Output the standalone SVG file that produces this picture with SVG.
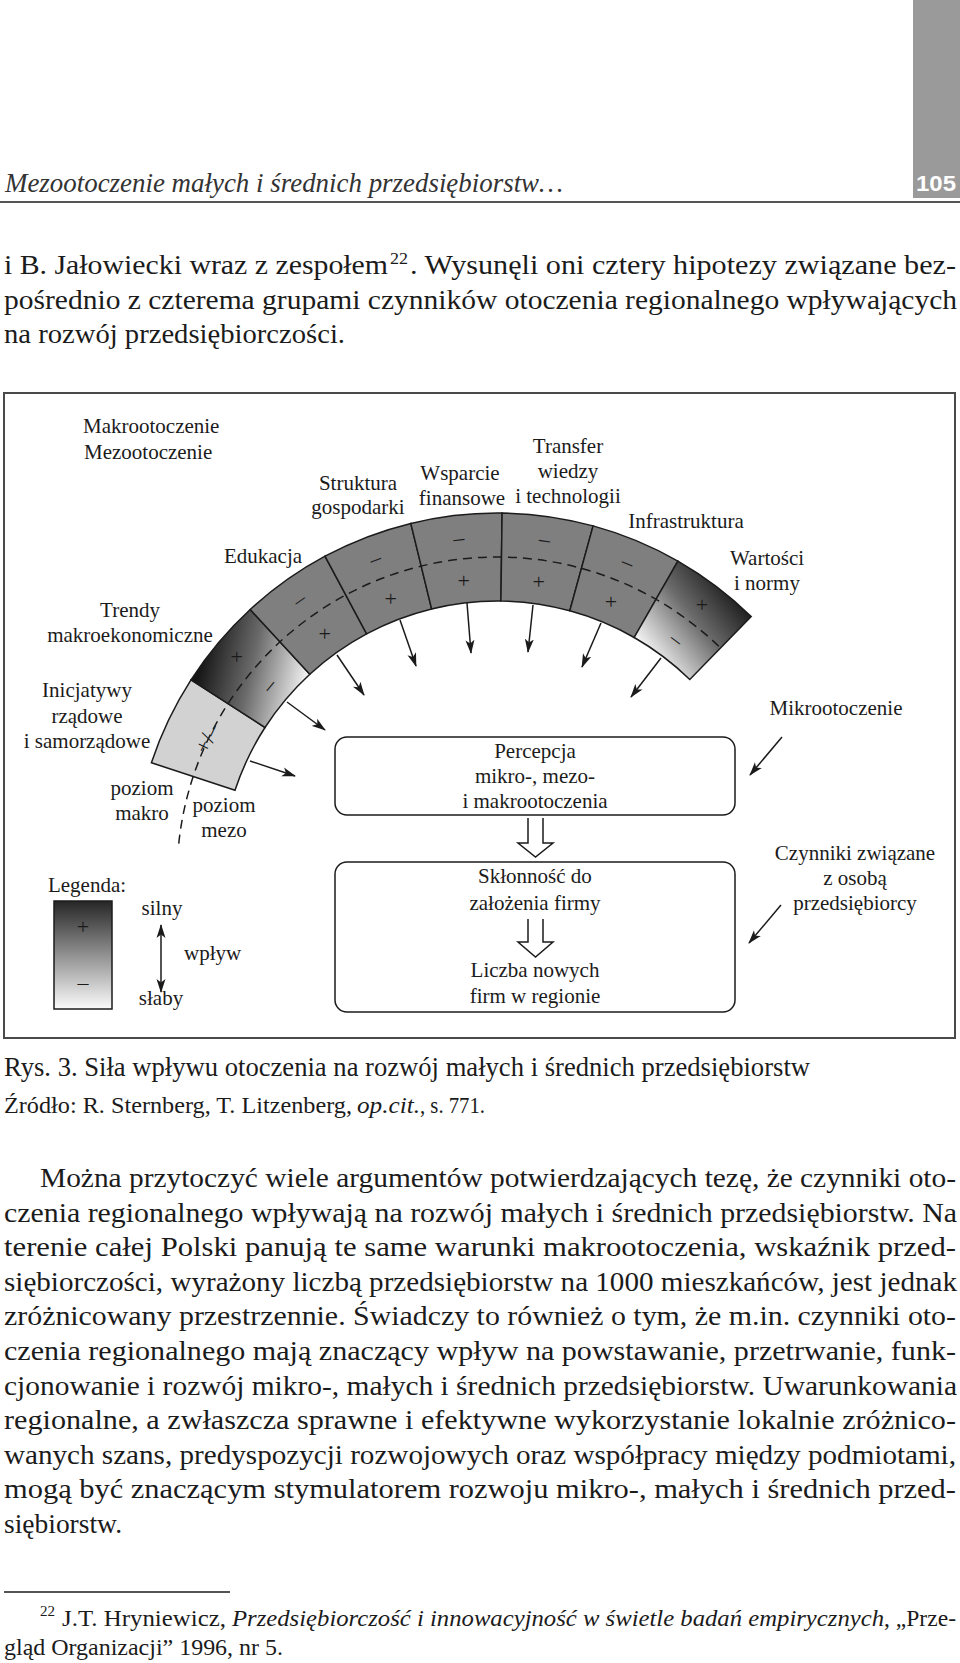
<svg xmlns="http://www.w3.org/2000/svg" width="960" height="1663" viewBox="0 0 960 1663">
<defs>
<style>
.pg{font-family:"Liberation Serif","Times New Roman",serif;fill:#1b1b1b}
.b27{font-size:27.5px}
.it{font-style:italic}
.dl{font-family:"Liberation Serif","Times New Roman",serif;font-size:21px;fill:#1b1b1b;text-anchor:middle}
.seg{stroke:#1b1b1b;stroke-width:1.5}
.sg{font-family:"Liberation Serif","Times New Roman",serif;font-size:22px;fill:#1b1b1b;text-anchor:middle}
.ar{stroke:#1b1b1b;stroke-width:1.5;fill:none;marker-end:url(#ah)}
.box{fill:none;stroke:#1b1b1b;stroke-width:1.5}
.hol{fill:none;stroke:#1b1b1b;stroke-width:1.5;stroke-linejoin:miter}
</style>
<marker id="ah" viewBox="0 0 14 10" refX="13" refY="5" markerWidth="14" markerHeight="10" markerUnits="userSpaceOnUse" orient="auto-start-reverse"><path d="M0,0.5 L14,5 L0,9.5 L3.5,5 Z" fill="#1b1b1b"/></marker>
<linearGradient id="gTr" gradientUnits="userSpaceOnUse" x1="200" y1="665" x2="310" y2="690"><stop offset="0" stop-color="#161616"/><stop offset="0.45" stop-color="#6a6a6a"/><stop offset="1" stop-color="#ffffff"/></linearGradient>
<linearGradient id="gWa" gradientUnits="userSpaceOnUse" x1="730" y1="580" x2="640" y2="650"><stop offset="0" stop-color="#161616"/><stop offset="0.45" stop-color="#6a6a6a"/><stop offset="1" stop-color="#ffffff"/></linearGradient>
<linearGradient id="gLeg" x1="0" y1="0" x2="0" y2="1"><stop offset="0" stop-color="#262626"/><stop offset="1" stop-color="#fbfbfb"/></linearGradient>
</defs>
<rect width="960" height="1663" fill="#ffffff"/>

<g id="page-header">
<rect x="913" y="0" width="47" height="198" fill="#9a9a9a"/>
<text x="936" y="191" font-family="Liberation Sans, Arial, sans-serif" font-weight="bold" font-size="22" fill="#ffffff" text-anchor="middle" textLength="40" lengthAdjust="spacingAndGlyphs">105</text>
<text class="pg it" x="5" y="192" font-size="26.5" style="fill:#333" textLength="558" lengthAdjust="spacingAndGlyphs">Mezootoczenie małych i średnich przedsiębiorstw…</text>
<line x1="0" y1="202" x2="960" y2="202" stroke="#555" stroke-width="2"/>
</g>

<g id="body-top" class="pg b27">
<text x="4" y="274" textLength="384" lengthAdjust="spacingAndGlyphs">i B. Jałowiecki wraz z zespołem</text>
<text x="390" y="264" font-size="16" textLength="18" lengthAdjust="spacingAndGlyphs">22</text>
<text x="410" y="274" textLength="546" lengthAdjust="spacingAndGlyphs">. Wysunęli oni cztery hipotezy związane bez-</text>
<text x="4" y="309" textLength="953" lengthAdjust="spacingAndGlyphs">pośrednio z czterema grupami czynników otoczenia regionalnego wpływających</text>
<text x="4" y="343" textLength="341" lengthAdjust="spacingAndGlyphs">na rozwój przedsiębiorczości.</text>
</g>

<g id="figure-frame">
<rect x="4" y="393" width="951" height="645" fill="none" stroke="#4a4a4a" stroke-width="2"/>
</g>

<g id="labels-top" class="dl">
<text x="83" y="433" style="text-anchor:start">Makrootoczenie</text>
<text x="84" y="459" style="text-anchor:start">Mezootoczenie</text>
</g>

<g id="seg-inicjatywy">
<path class="seg" fill="#d2d2d2" d="M151.4,762.7 A364,364 0 0 1 191.0,679.8 L265.0,727.5 A276,276 0 0 0 235.0,790.3 Z"/>
<text class="sg" transform="translate(208.3,739.0) rotate(-64.45)" x="0" y="6" font-size="21">+/–</text>
<text class="dl" x="87" y="697">Inicjatywy</text>
<text class="dl" x="87" y="723">rządowe</text>
<text class="dl" x="87" y="748">i samorządowe</text>
</g>

<g id="seg-trendy">
<path class="seg" fill="url(#gTr)" d="M191.0,679.8 A364,364 0 0 1 250.2,609.5 L309.8,674.2 A276,276 0 0 0 265.0,727.5 Z"/>
<text class="sg" x="236.7" y="664.2">+</text>
<text class="sg" transform="translate(269.6,685.9) rotate(-49.95)" x="0" y="6">–</text>
<text class="dl" x="130" y="617">Trendy</text>
<text class="dl" x="130" y="642">makroekonomiczne</text>
</g>

<g id="seg-edukacja">
<path class="seg" fill="#7f7f7f" d="M250.2,609.5 A364,364 0 0 1 325.0,556.2 L366.6,633.8 A276,276 0 0 0 309.8,674.2 Z"/>
<text class="sg" transform="translate(299.7,600.1) rotate(-35.45)" x="0" y="6">–</text>
<text class="sg" x="324.7" y="641.1">+</text>
<text class="dl" x="263" y="563">Edukacja</text>
</g>

<g id="seg-struktura">
<path class="seg" fill="#7f7f7f" d="M325.0,556.2 A364,364 0 0 1 410.8,523.4 L431.6,608.9 A276,276 0 0 0 366.6,633.8 Z"/>
<text class="sg" transform="translate(375.4,559.5) rotate(-20.95)" x="0" y="6">–</text>
<text class="sg" x="390.8" y="605.6">+</text>
<text class="dl" x="358" y="490">Struktura</text>
<text class="dl" x="358" y="514">gospodarki</text>
</g>

<g id="seg-wsparcie">
<path class="seg" fill="#7f7f7f" d="M410.8,523.4 A364,364 0 0 1 502.1,513.0 L500.9,601.0 A276,276 0 0 0 431.6,608.9 Z"/>
<text class="sg" transform="translate(458.8,539.1) rotate(-6.45)" x="0" y="6">–</text>
<text class="sg" x="463.6" y="587.9">+</text>
<text class="dl" x="460" y="480">Wsparcie</text>
<text class="dl" x="462" y="505">finansowe</text>
</g>

<g id="seg-transfer">
<path class="seg" fill="#7f7f7f" d="M502.1,513.0 A364,364 0 0 1 593.1,525.9 L569.8,610.8 A276,276 0 0 0 500.9,601.0 Z"/>
<text class="sg" transform="translate(544.6,540.4) rotate(8.05)" x="0" y="6">–</text>
<text class="sg" x="538.6" y="588.9">+</text>
<text class="dl" x="568" y="453">Transfer</text>
<text class="dl" x="568" y="478">wiedzy</text>
<text class="dl" x="568" y="503">i technologii</text>
</g>

<g id="seg-infrastruktura">
<path class="seg" fill="#7f7f7f" d="M593.1,525.9 A364,364 0 0 1 677.9,561.1 L634.2,637.5 A276,276 0 0 0 569.8,610.8 Z"/>
<text class="sg" transform="translate(627.4,563.0) rotate(22.55)" x="0" y="6">–</text>
<text class="sg" x="610.9" y="608.7">+</text>
<text class="dl" x="686" y="528">Infrastruktura</text>
</g>

<g id="seg-wartosci">
<path class="seg" fill="url(#gWa)" d="M677.9,561.1 A364,364 0 0 1 751.2,616.5 L689.8,679.5 A276,276 0 0 0 634.2,637.5 Z"/>
<text class="sg" x="701.9" y="611.6">+</text>
<text class="sg" transform="translate(676.0,640.0) rotate(37.05)" x="0" y="6">–</text>
<text class="dl" x="767" y="565">Wartości</text>
<text class="dl" x="767" y="590">i normy</text>
</g>

<g id="level-divider">
<path d="M178.75,843.55 A320,320 0 0 1 720.48,647.96" fill="none" stroke="#1b1b1b" stroke-width="1.5" stroke-dasharray="9 6"/>
<text class="dl" x="142" y="795">poziom</text>
<text class="dl" x="142" y="820">makro</text>
<text class="dl" x="224" y="812">poziom</text>
<text class="dl" x="224" y="837">mezo</text>
</g>

<g id="box-percepcja">
<rect class="box" x="335" y="737" width="400" height="78" rx="12"/>
<text class="dl" x="535" y="758">Percepcja</text>
<text class="dl" x="535" y="783">mikro-, mezo-</text>
<text class="dl" x="535" y="808">i makrootoczenia</text>
</g>

<g id="box-sklonnosc">
<rect class="box" x="335" y="862" width="400" height="150" rx="12"/>
<text class="dl" x="535" y="883">Skłonność do</text>
<text class="dl" x="535" y="910">założenia firmy</text>
<text class="dl" x="535" y="977">Liczba nowych</text>
<text class="dl" x="535" y="1003">firm w regionie</text>
</g>

<g id="mikro">
<text class="dl" x="836" y="715">Mikrootoczenie</text>
</g>

<g id="czynniki">
<text class="dl" x="855" y="860">Czynniki związane</text>
<text class="dl" x="855" y="885">z osobą</text>
<text class="dl" x="855" y="910">przedsiębiorcy</text>
</g>

<g id="legend">
<text class="dl" x="87" y="892">Legenda:</text>
<rect x="54" y="901" width="58" height="108" fill="url(#gLeg)" stroke="#1b1b1b" stroke-width="1.5"/>
<text class="sg" x="83" y="934">+</text>
<text class="sg" x="83" y="990">–</text>
<text class="dl" x="162" y="915">silny</text>
<text class="dl" x="184" y="960" style="text-anchor:start">wpływ</text>
<text class="dl" x="161" y="1005">słaby</text>
</g>

<g id="connectors">
<line class="ar" x1="250" y1="761" x2="295" y2="776"/>
<line class="ar" x1="287" y1="702" x2="325" y2="730"/>
<line class="ar" x1="337" y1="655" x2="364" y2="695"/>
<line class="ar" x1="400" y1="620" x2="416" y2="666"/>
<line class="ar" x1="467" y1="603" x2="471" y2="653"/>
<line class="ar" x1="533" y1="605" x2="528" y2="652"/>
<line class="ar" x1="601" y1="623" x2="582" y2="667"/>
<line class="ar" x1="661" y1="658" x2="631" y2="697"/>
<line class="ar" x1="782" y1="737" x2="750" y2="775"/>
<line class="ar" x1="781" y1="905" x2="749" y2="943"/>
<line class="ar" x1="161" y1="925" x2="161" y2="992" style="marker-start:url(#ah)"/>
<polyline class="hol" points="528,818 528,843 518,843 535.5,857 553,843 543,843 543,818"/>
<polyline class="hol" points="528,919 528,942 518,942 535.5,957 553,942 543,942 543,919"/>
</g>

<g id="caption" class="pg">
<text x="4" y="1076" font-size="26.5" textLength="806" lengthAdjust="spacingAndGlyphs">Rys. 3. Siła wpływu otoczenia na rozwój małych i średnich przedsiębiorstw</text>
<text x="4" y="1113" font-size="24" textLength="348" lengthAdjust="spacingAndGlyphs">Źródło: R. Sternberg, T. Litzenberg,</text>
<text class="it" x="357" y="1113" font-size="24" textLength="63" lengthAdjust="spacingAndGlyphs">op.cit.</text>
<text x="420" y="1113" font-size="24" textLength="65" lengthAdjust="spacingAndGlyphs">, s. 771.</text>
</g>

<g id="body-paragraph" class="pg b27">
<text x="40" y="1187" textLength="916" lengthAdjust="spacingAndGlyphs">Można przytoczyć wiele argumentów potwierdzających tezę, że czynniki oto-</text>
<text x="4" y="1221.6" textLength="953" lengthAdjust="spacingAndGlyphs">czenia regionalnego wpływają na rozwój małych i średnich przedsiębiorstw. Na</text>
<text x="4" y="1256.2" textLength="952" lengthAdjust="spacingAndGlyphs">terenie całej Polski panują te same warunki makrootoczenia, wskaźnik przed-</text>
<text x="4" y="1290.8" textLength="953" lengthAdjust="spacingAndGlyphs">siębiorczości, wyrażony liczbą przedsiębiorstw na 1000 mieszkańców, jest jednak</text>
<text x="4" y="1325.4" textLength="952" lengthAdjust="spacingAndGlyphs">zróżnicowany przestrzennie. Świadczy to również o tym, że m.in. czynniki oto-</text>
<text x="4" y="1360" textLength="952" lengthAdjust="spacingAndGlyphs">czenia regionalnego mają znaczący wpływ na powstawanie, przetrwanie, funk-</text>
<text x="4" y="1394.6" textLength="953" lengthAdjust="spacingAndGlyphs">cjonowanie i rozwój mikro-, małych i średnich przedsiębiorstw. Uwarunkowania</text>
<text x="4" y="1429.2" textLength="952" lengthAdjust="spacingAndGlyphs">regionalne, a zwłaszcza sprawne i efektywne wykorzystanie lokalnie zróżnico-</text>
<text x="4" y="1463.8" textLength="952" lengthAdjust="spacingAndGlyphs">wanych szans, predyspozycji rozwojowych oraz współpracy między podmiotami,</text>
<text x="4" y="1498.4" textLength="952" lengthAdjust="spacingAndGlyphs">mogą być znaczącym stymulatorem rozwoju mikro-, małych i średnich przed-</text>
<text x="4" y="1533" textLength="118" lengthAdjust="spacingAndGlyphs">siębiorstw.</text>
</g>

<g id="footnote" class="pg">
<line x1="4" y1="1592" x2="230" y2="1592" stroke="#1b1b1b" stroke-width="1.5"/>
<text x="40" y="1616" font-size="14" textLength="15" lengthAdjust="spacingAndGlyphs">22</text>
<text x="62" y="1626" font-size="23.5" textLength="164" lengthAdjust="spacingAndGlyphs">J.T. Hryniewicz,</text>
<text class="it" x="232" y="1626" font-size="23.5" textLength="652" lengthAdjust="spacingAndGlyphs">Przedsiębiorczość i innowacyjność w świetle badań empirycznych</text>
<text x="884" y="1626" font-size="23.5" textLength="72" lengthAdjust="spacingAndGlyphs">, „Prze-</text>
<text x="4" y="1655" font-size="23.5" textLength="279" lengthAdjust="spacingAndGlyphs">gląd Organizacji” 1996, nr 5.</text>
</g>
</svg>
